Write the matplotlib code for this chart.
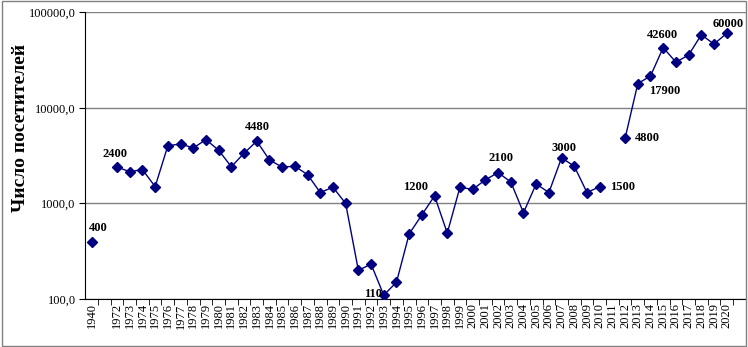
import matplotlib
matplotlib.use("Agg")
import matplotlib.pyplot as plt
import numpy as np
from matplotlib.patches import Rectangle

# categories: 1940, an empty slot, 1972..2020, one empty slot at the end
years = ["1940", ""] + [str(y) for y in range(1972, 2021)] + [""]
visitors = [
    400, np.nan,
    2400, 2150, 2260, 1500, 4000, 4200, 3800, 4650, 3600, 2420,
    3350, 4480, 2850, 2400, 2450, 2000, 1300, 1480, 1000, 200,
    232, 110, 150, 480, 760, 1200, 490, 1480, 1400, 1770,
    2100, 1680, 800, 1600, 1300, 3000, 2450, 1300, 1500, np.nan,
    4800, 17900, 21500, 42600, 30000, 35600, 58000, 46400, 60000,
    np.nan,
]
# labelled points: year -> (text, dx px, dy px, ha)
labels = {
    "1940": ("400", 7, 14, "center"),
    "1972": ("2400", -2, 13, "center"),
    "1983": ("4480", 1, 14, "center"),
    "1993": ("110", -2, 1, "right"),
    "1997": ("1200", -19, 9, "center"),
    "2002": ("2100", 3, 15, "center"),
    "2007": ("3000", 2, 10, "center"),
    "2010": ("1500", 10, 0, "left"),
    "2012": ("4800", 10, 0, "left"),
    "2013": ("17900", 11, -7, "left"),
    "2015": ("42600", -1, 13, "center"),
    "2020": ("60000", 1, 9, "center"),
}

serif = ["Liberation Serif", "DejaVu Serif"]
plt.rcParams["font.family"] = serif

fig = plt.figure(figsize=(7.48, 3.47), dpi=100)
ax = fig.add_axes([0.114, 0.138, 0.883, 0.827])

x = np.arange(len(years))
ax.plot(x, visitors, color="#000080", lw=1.0, marker="D", ms=5, zorder=3)

for year, (txt, dx, dy, ha) in labels.items():
    i = years.index(year)
    ax.annotate(txt, (x[i], visitors[i]), xytext=(dx, dy), textcoords="offset pixels",
                ha=ha, va="center", fontsize=9, fontweight="bold", color="black")

ax.set_yscale("log")
ax.set_ylim(100, 100000)
ax.set_yticks([100, 1000, 10000, 100000])
ax.set_yticklabels(["100,0", "1000,0", "10000,0", "100000,0"], fontsize=9)
ax.yaxis.set_minor_locator(matplotlib.ticker.NullLocator())
ax.grid(axis="y", color="#808080", lw=1.0)
ax.set_axisbelow(True)

ax.set_xlim(-0.5, len(years) - 0.5)
ax.set_xticks(x)
ax.set_xticklabels(years, rotation=90, fontsize=9)
ax.tick_params(axis="x", length=0, pad=3)
ax.set_xticks(x[:-1] + 0.5, minor=True)
ax.tick_params(axis="x", which="minor", length=4, color="black")
ax.tick_params(axis="y", length=4, pad=3)

for side in ("top", "right"):
    ax.spines[side].set_visible(False)
ax.spines["left"].set_color("black")
ax.spines["bottom"].set_color("black")

fig.text(0.027, 0.63, "Число посетителей", rotation=90, ha="center", va="center",
         fontsize=14, fontweight="bold")

fig.patches.append(Rectangle((0.003, 0.004), 0.994, 0.992, transform=fig.transFigure,
                             fill=False, edgecolor="#808080", lw=1.0))

fig.savefig("out.png", dpi=100)
